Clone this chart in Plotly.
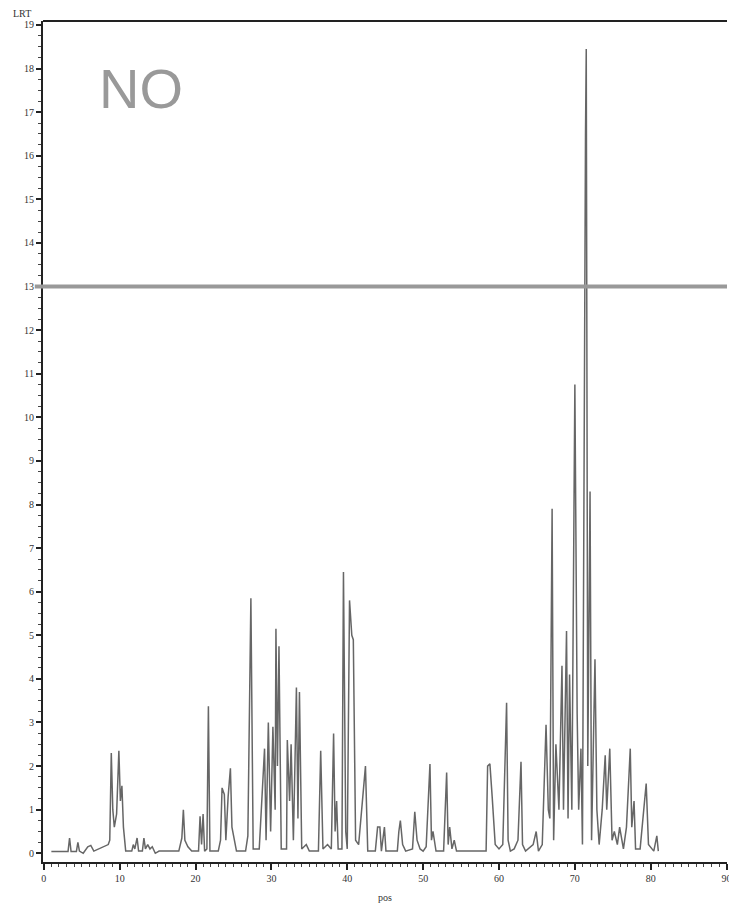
import plotly.graph_objects as go

pos = [1.0, 3.2, 3.4, 3.6, 4.3, 4.5, 4.7, 5.2, 5.8, 6.2, 6.6, 7.2, 8.0, 8.5, 8.7, 8.9, 9.1, 9.3, 9.6, 9.9,
       10.1, 10.3, 10.5, 10.8, 11.6, 11.8, 12.0, 12.3, 12.5, 13.0, 13.2, 13.4, 13.7, 14.0, 14.3, 14.7, 15.2,
       17.8, 18.2, 18.4, 18.6, 19.0, 19.5, 20.4, 20.6, 20.8, 21.0, 21.2, 21.5, 21.7, 21.9, 23.0, 23.3, 23.5,
       23.8, 24.0, 24.3, 24.6, 24.8, 25.1, 25.4, 26.6, 26.9, 27.3, 27.6, 28.4, 28.7, 29.1, 29.3, 29.6, 29.9,
       30.2, 30.5, 30.6, 30.8, 31.0, 31.3, 32.0, 32.1, 32.4, 32.6, 32.9, 33.1, 33.3, 33.5, 33.7, 34.0, 34.6,
       35.0, 36.2, 36.5, 36.8, 37.4, 37.9, 38.2, 38.4, 38.6, 38.8, 39.3, 39.5, 39.8, 40.0, 40.3, 40.6, 40.8,
       41.1, 41.5, 42.1, 42.4, 42.7, 43.7, 44.0, 44.3, 44.5, 44.9, 45.1, 46.6, 46.8, 47.0, 47.3, 47.7, 48.6,
       48.9, 49.2, 49.6, 50.0, 50.4, 50.9, 51.1, 51.3, 51.7, 52.7, 53.1, 53.3, 53.5, 53.8, 54.1, 54.4, 58.3,
       58.5, 58.8, 59.1, 59.5, 60.0, 60.5, 61.0, 61.2, 61.5, 62.0, 62.5, 62.9, 63.1, 63.5, 64.5, 64.9, 65.2,
       65.7, 66.2, 66.5, 66.7, 67.0, 67.2, 67.5, 67.9, 68.3, 68.5, 68.9, 69.1, 69.3, 69.6, 70.0, 70.3, 70.5,
       70.8, 71.0, 71.4, 71.5, 71.7, 72.0, 72.2, 72.65, 72.9, 73.2, 73.6, 74.0, 74.2, 74.6, 74.9, 75.2, 75.6,
       75.9, 76.4, 76.8, 77.3, 77.5, 77.8, 78.0, 78.6, 79.0, 79.4, 79.7, 80.1, 80.4, 80.8, 81.0]
lrt = [0.04, 0.04, 0.35, 0.04, 0.04, 0.25, 0.05, 0.0, 0.15, 0.18, 0.05, 0.1, 0.15, 0.2, 0.3, 2.3, 1.0, 0.6, 0.9, 2.35,
       1.2, 1.55, 0.6, 0.05, 0.05, 0.2, 0.1, 0.35, 0.05, 0.05, 0.35, 0.1, 0.2, 0.1, 0.15, 0.0, 0.05,
       0.05, 0.35, 1.0, 0.3, 0.15, 0.05, 0.05, 0.85, 0.2, 0.9, 0.05, 0.1, 3.37, 0.05, 0.05, 0.3, 1.5,
       1.35, 0.3, 1.3, 1.95, 0.6, 0.3, 0.05, 0.05, 0.4, 5.85, 0.1, 0.1, 1.2, 2.4, 0.3, 3.0, 0.5,
       2.9, 1.0, 5.15, 2.0, 4.75, 0.1, 0.1, 2.6, 1.2, 2.5, 0.3, 2.0, 3.8, 0.8, 3.7, 0.1, 0.2,
       0.05, 0.05, 2.35, 0.1, 0.2, 0.1, 2.75, 0.5, 1.2, 0.1, 0.1, 6.45, 0.5, 0.1, 5.8, 5.0, 4.9,
       0.3, 0.2, 1.5, 2.0, 0.05, 0.05, 0.6, 0.6, 0.05, 0.6, 0.05, 0.05, 0.5, 0.75, 0.2, 0.05, 0.1,
       0.95, 0.3, 0.1, 0.05, 0.15, 2.05, 0.3, 0.5, 0.05, 0.05, 1.85, 0.2, 0.6, 0.1, 0.3, 0.05, 0.05,
       2.0, 2.05, 1.3, 0.2, 0.1, 0.2, 3.45, 0.3, 0.05, 0.1, 0.3, 2.1, 0.2, 0.05, 0.2, 0.5, 0.05,
       0.2, 2.95, 1.0, 0.8, 7.9, 0.3, 2.5, 1.0, 4.3, 1.0, 5.1, 0.8, 4.1, 1.0, 10.75, 3.2, 1.0,
       2.4, 0.2, 16.5, 18.45, 2.0, 8.3, 0.3, 4.45, 1.0, 0.2, 1.0, 2.25, 1.0, 2.4, 0.3, 0.5, 0.2,
       0.6, 0.1, 0.6, 2.4, 0.6, 1.2, 0.1, 0.1, 0.9, 1.6, 0.2, 0.1, 0.05, 0.4, 0.05]

threshold = 13
x_ticks = list(range(0, 91, 10))
y_ticks = list(range(0, 20))

fig = go.Figure()
fig.add_trace(go.Scatter(x=pos, y=lrt, mode="lines",
                         line=dict(color="#666666", width=1.5), showlegend=False))

fig.add_shape(type="line", xref="paper", yref="y", x0=-0.012, x1=1, y0=threshold, y1=threshold,
              line=dict(color="#999999", width=4))
fig.add_shape(type="line", xref="paper", yref="paper", x0=0, x1=1, y0=1, y1=1,
              line=dict(color="#222222", width=2))

tickfont = dict(family="Liberation Serif, DejaVu Serif, serif", size=10, color="#333333")

fig.update_layout(
    width=729, height=906,
    margin=dict(l=43, r=2, t=21, b=44, autoexpand=False),
    plot_bgcolor="white", paper_bgcolor="white",
    xaxis=dict(range=[-0.1, 90.05], tickvals=x_ticks, ticktext=[str(v) for v in x_ticks],
               automargin=False,
               showgrid=False, zeroline=False, showline=True, linecolor="#222222", linewidth=2,
               ticks="outside", ticklen=6, tickwidth=1.5, tickcolor="#222222", tickfont=tickfont,
               ticklabeloverflow="allow",
               minor=dict(dtick=1, ticks="outside", ticklen=3, tickwidth=1, tickcolor="#444444")),
    yaxis=dict(range=[-0.2, 19.09], tickvals=y_ticks, ticktext=[str(v) for v in y_ticks],
               automargin=False,
               showgrid=False, zeroline=False, showline=True, linecolor="#222222", linewidth=2,
               ticks="outside", ticklen=5, tickwidth=1.5, tickcolor="#222222", tickfont=tickfont,
               minor=dict(dtick=0.25, ticks="outside", ticklen=3, tickwidth=1, tickcolor="#444444")),
    annotations=[
        dict(text="LRT", xref="paper", yref="paper", x=-0.03, y=1.0, xanchor="center", yanchor="bottom",
             showarrow=False, font=tickfont, yshift=0),
        dict(text="pos", xref="paper", yref="paper", x=0.5, y=0, yshift=-43, xanchor="center",
             yanchor="bottom", showarrow=False, font=tickfont),
        dict(text="NO", x=12.8, y=17.55, xref="x", yref="y", showarrow=False,
             font=dict(family="Liberation Sans, Arial, sans-serif", size=56, color="#999999")),
    ],
)

fig.write_html("out.html", config={"displayModeBar": False},
               post_script="document.body.style.margin='0px';document.body.style.overflow='hidden';")
